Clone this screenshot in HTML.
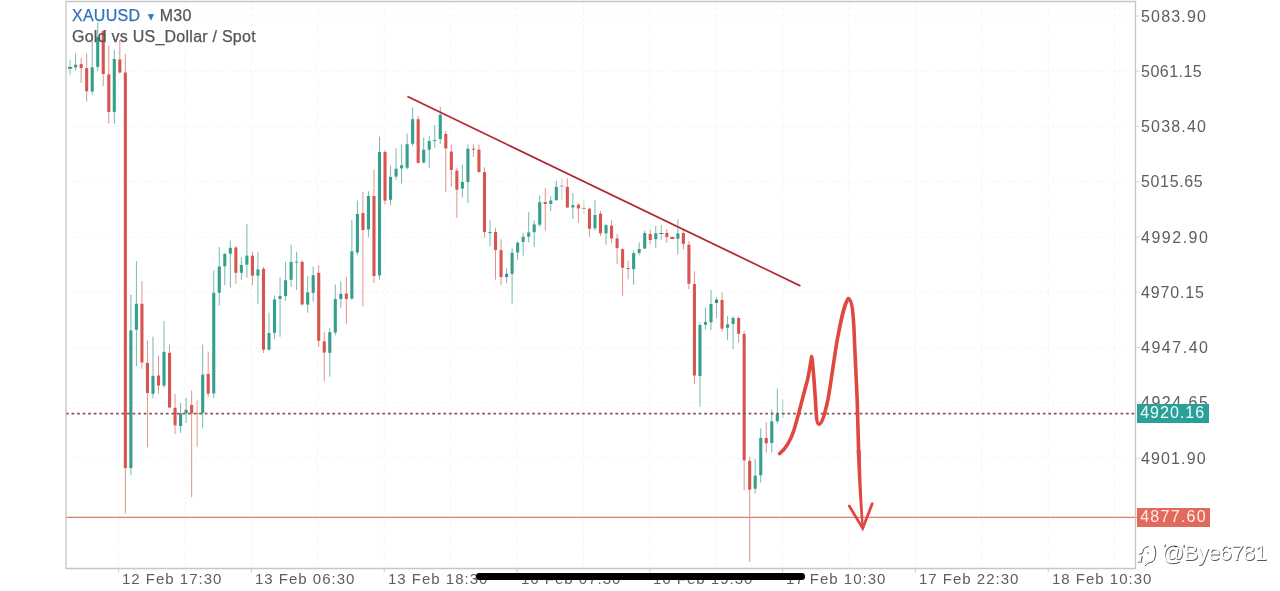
<!DOCTYPE html>
<html><head><meta charset="utf-8"><title>XAUUSD</title>
<style>
html,body{margin:0;padding:0;background:#fff;}
body{width:1280px;height:591px;position:relative;overflow:hidden;font-family:"Liberation Sans",sans-serif;}
svg{position:absolute;left:0;top:0;}
.yl,.xl,.t1,.t2,.tag,.wm{will-change:transform;}
.yl{position:absolute;left:1140.6px;font-size:16px;line-height:18px;height:18px;color:#5d5d62;letter-spacing:1.1px;white-space:nowrap;}
.xl{position:absolute;top:570.3px;font-size:15px;line-height:18px;color:#5d5d62;letter-spacing:1.0px;white-space:nowrap;}
.t1{position:absolute;left:71.5px;top:6.9px;font-size:16px;line-height:18px;color:#2f73b8;white-space:nowrap;letter-spacing:0.25px;-webkit-text-stroke:0.25px #2f73b8;}
.t1 .m{color:#555558;-webkit-text-stroke:0.25px #555558;}
.t2{position:absolute;left:71.5px;top:27.6px;font-size:16px;line-height:18px;color:#555558;white-space:nowrap;letter-spacing:0.25px;-webkit-text-stroke:0.25px #555558;}
.tag{position:absolute;left:1137px;width:71.5px;height:18.6px;line-height:18.8px;font-size:16px;letter-spacing:1.1px;color:#f4fbf9;white-space:nowrap;text-indent:3.2px;background:#2aa198;}
.wm{position:absolute;left:1161.6px;top:540.4px;font-size:22px;line-height:26px;color:#fff;letter-spacing:-0.6px;text-shadow:0.7px 0.7px 0.4px rgba(30,30,30,.75);white-space:nowrap;}
</style></head><body>
<svg width="1280" height="591" viewBox="0 0 1280 591">
<rect x="0" y="0" width="1280" height="591" fill="#fff"/>
<line x1="118.6" y1="2" x2="118.6" y2="568" stroke="#f4f4f7" stroke-width="1" stroke-dasharray="3 2.5"/>
<line x1="185.0" y1="2" x2="185.0" y2="568" stroke="#f4f4f7" stroke-width="1" stroke-dasharray="3 2.5"/>
<line x1="251.4" y1="2" x2="251.4" y2="568" stroke="#f4f4f7" stroke-width="1" stroke-dasharray="3 2.5"/>
<line x1="317.8" y1="2" x2="317.8" y2="568" stroke="#f4f4f7" stroke-width="1" stroke-dasharray="3 2.5"/>
<line x1="384.2" y1="2" x2="384.2" y2="568" stroke="#f4f4f7" stroke-width="1" stroke-dasharray="3 2.5"/>
<line x1="450.6" y1="2" x2="450.6" y2="568" stroke="#f4f4f7" stroke-width="1" stroke-dasharray="3 2.5"/>
<line x1="517.0" y1="2" x2="517.0" y2="568" stroke="#f4f4f7" stroke-width="1" stroke-dasharray="3 2.5"/>
<line x1="583.4" y1="2" x2="583.4" y2="568" stroke="#f4f4f7" stroke-width="1" stroke-dasharray="3 2.5"/>
<line x1="649.8" y1="2" x2="649.8" y2="568" stroke="#f4f4f7" stroke-width="1" stroke-dasharray="3 2.5"/>
<line x1="716.2" y1="2" x2="716.2" y2="568" stroke="#f4f4f7" stroke-width="1" stroke-dasharray="3 2.5"/>
<line x1="782.6" y1="2" x2="782.6" y2="568" stroke="#f4f4f7" stroke-width="1" stroke-dasharray="3 2.5"/>
<line x1="849.0" y1="2" x2="849.0" y2="568" stroke="#f4f4f7" stroke-width="1" stroke-dasharray="3 2.5"/>
<line x1="915.4" y1="2" x2="915.4" y2="568" stroke="#f4f4f7" stroke-width="1" stroke-dasharray="3 2.5"/>
<line x1="981.8" y1="2" x2="981.8" y2="568" stroke="#f4f4f7" stroke-width="1" stroke-dasharray="3 2.5"/>
<line x1="1048.2" y1="2" x2="1048.2" y2="568" stroke="#f4f4f7" stroke-width="1" stroke-dasharray="3 2.5"/>
<line x1="1114.6" y1="2" x2="1114.6" y2="568" stroke="#f4f4f7" stroke-width="1" stroke-dasharray="3 2.5"/>
<line x1="67" y1="16.0" x2="1135" y2="16.0" stroke="#f4f4f7" stroke-width="1" stroke-dasharray="3 2.5"/>
<line x1="67" y1="71.2" x2="1135" y2="71.2" stroke="#f4f4f7" stroke-width="1" stroke-dasharray="3 2.5"/>
<line x1="67" y1="126.5" x2="1135" y2="126.5" stroke="#f4f4f7" stroke-width="1" stroke-dasharray="3 2.5"/>
<line x1="67" y1="181.8" x2="1135" y2="181.8" stroke="#f4f4f7" stroke-width="1" stroke-dasharray="3 2.5"/>
<line x1="67" y1="237.0" x2="1135" y2="237.0" stroke="#f4f4f7" stroke-width="1" stroke-dasharray="3 2.5"/>
<line x1="67" y1="292.2" x2="1135" y2="292.2" stroke="#f4f4f7" stroke-width="1" stroke-dasharray="3 2.5"/>
<line x1="67" y1="347.5" x2="1135" y2="347.5" stroke="#f4f4f7" stroke-width="1" stroke-dasharray="3 2.5"/>
<line x1="67" y1="402.8" x2="1135" y2="402.8" stroke="#f4f4f7" stroke-width="1" stroke-dasharray="3 2.5"/>
<line x1="67" y1="458.0" x2="1135" y2="458.0" stroke="#f4f4f7" stroke-width="1" stroke-dasharray="3 2.5"/>
<line x1="67" y1="513.2" x2="1135" y2="513.2" stroke="#f4f4f7" stroke-width="1" stroke-dasharray="3 2.5"/>
<line x1="70.10" y1="60.3" x2="70.10" y2="75.2" stroke="#8fbab4" stroke-width="1"/>
<rect x="68.00" y="67" width="4.2" height="1.60" fill="#3f7f7c"/>
<line x1="75.62" y1="53.3" x2="75.62" y2="70.5" stroke="#74baae" stroke-width="1"/>
<rect x="74.08" y="64.7" width="3.1" height="2.60" fill="#359f8d"/>
<line x1="81.15" y1="58" x2="81.15" y2="83" stroke="#e0938b" stroke-width="1"/>
<rect x="79.60" y="64.2" width="3.1" height="3.90" fill="#d7554f"/>
<line x1="86.67" y1="53.3" x2="86.67" y2="101.7" stroke="#e0938b" stroke-width="1"/>
<rect x="85.12" y="68.1" width="3.1" height="23.15" fill="#d7554f"/>
<line x1="92.20" y1="41.5" x2="92.20" y2="94.7" stroke="#74baae" stroke-width="1"/>
<rect x="90.65" y="67.3" width="3.1" height="24.30" fill="#359f8d"/>
<line x1="97.72" y1="21.8" x2="97.72" y2="71.25" stroke="#74baae" stroke-width="1"/>
<rect x="96.17" y="37" width="3.1" height="29.90" fill="#359f8d"/>
<line x1="103.25" y1="30" x2="103.25" y2="86" stroke="#e0938b" stroke-width="1"/>
<rect x="101.70" y="31" width="3.1" height="43.00" fill="#d7554f"/>
<line x1="108.78" y1="45.5" x2="108.78" y2="123.6" stroke="#e0938b" stroke-width="1"/>
<rect x="107.23" y="74.4" width="3.1" height="37.50" fill="#d7554f"/>
<line x1="114.30" y1="50.2" x2="114.30" y2="123.6" stroke="#74baae" stroke-width="1"/>
<rect x="112.75" y="59" width="3.1" height="52.90" fill="#359f8d"/>
<line x1="119.82" y1="40" x2="119.82" y2="73.6" stroke="#e0938b" stroke-width="1"/>
<rect x="118.27" y="59.5" width="3.1" height="13.00" fill="#d7554f"/>
<line x1="125.35" y1="54" x2="125.35" y2="513.6" stroke="#e0938b" stroke-width="1"/>
<rect x="123.80" y="72.5" width="3.1" height="395.50" fill="#d7554f"/>
<line x1="130.88" y1="294.7" x2="130.88" y2="475.3" stroke="#74baae" stroke-width="1"/>
<rect x="129.32" y="330.4" width="3.1" height="137.60" fill="#359f8d"/>
<line x1="136.40" y1="261" x2="136.40" y2="366.4" stroke="#74baae" stroke-width="1"/>
<rect x="134.85" y="303.75" width="3.1" height="25.95" fill="#359f8d"/>
<line x1="141.93" y1="281" x2="141.93" y2="368.75" stroke="#e0938b" stroke-width="1"/>
<rect x="140.38" y="303.75" width="3.1" height="58.75" fill="#d7554f"/>
<line x1="147.45" y1="340.6" x2="147.45" y2="447.2" stroke="#e0938b" stroke-width="1"/>
<rect x="145.90" y="363" width="3.1" height="30.00" fill="#d7554f"/>
<line x1="152.97" y1="336.7" x2="152.97" y2="398.4" stroke="#74baae" stroke-width="1"/>
<rect x="151.42" y="375.8" width="3.1" height="17.95" fill="#359f8d"/>
<line x1="158.50" y1="355.5" x2="158.50" y2="393.75" stroke="#e0938b" stroke-width="1"/>
<rect x="156.95" y="375.5" width="3.1" height="10.10" fill="#d7554f"/>
<line x1="164.03" y1="321" x2="164.03" y2="388" stroke="#74baae" stroke-width="1"/>
<rect x="162.47" y="351.9" width="3.1" height="33.70" fill="#359f8d"/>
<line x1="169.55" y1="344.5" x2="169.55" y2="408" stroke="#e0938b" stroke-width="1"/>
<rect x="168.00" y="352.8" width="3.1" height="54.70" fill="#d7554f"/>
<line x1="175.07" y1="393.75" x2="175.07" y2="434" stroke="#e0938b" stroke-width="1"/>
<rect x="173.52" y="407.8" width="3.1" height="17.50" fill="#d7554f"/>
<line x1="180.60" y1="403" x2="180.60" y2="433" stroke="#74baae" stroke-width="1"/>
<rect x="179.05" y="413.3" width="3.1" height="12.70" fill="#359f8d"/>
<line x1="186.12" y1="397.7" x2="186.12" y2="423" stroke="#74baae" stroke-width="1"/>
<rect x="184.57" y="409.8" width="3.1" height="3.50" fill="#359f8d"/>
<line x1="191.65" y1="390.6" x2="191.65" y2="497.2" stroke="#e0938b" stroke-width="1"/>
<rect x="190.10" y="405" width="3.1" height="8.30" fill="#d7554f"/>
<line x1="197.18" y1="400" x2="197.18" y2="447.2" stroke="#e3a188" stroke-width="1"/>
<rect x="195.62" y="413" width="3.1" height="1.00" fill="#d9805e"/>
<line x1="202.70" y1="344.5" x2="202.70" y2="428.4" stroke="#74baae" stroke-width="1"/>
<rect x="201.15" y="374.7" width="3.1" height="38.30" fill="#359f8d"/>
<line x1="208.22" y1="351.6" x2="208.22" y2="396.9" stroke="#e0938b" stroke-width="1"/>
<rect x="206.67" y="373.9" width="3.1" height="19.85" fill="#d7554f"/>
<line x1="213.75" y1="270.5" x2="213.75" y2="398.4" stroke="#74baae" stroke-width="1"/>
<rect x="212.20" y="292.8" width="3.1" height="100.60" fill="#359f8d"/>
<line x1="219.28" y1="247" x2="219.28" y2="305.6" stroke="#74baae" stroke-width="1"/>
<rect x="217.72" y="266.6" width="3.1" height="26.10" fill="#359f8d"/>
<line x1="224.80" y1="253.5" x2="224.80" y2="285.3" stroke="#74baae" stroke-width="1"/>
<rect x="223.25" y="253.75" width="3.1" height="12.50" fill="#359f8d"/>
<line x1="230.33" y1="240.5" x2="230.33" y2="287.7" stroke="#74baae" stroke-width="1"/>
<rect x="228.78" y="247.8" width="3.1" height="5.95" fill="#359f8d"/>
<line x1="235.85" y1="246" x2="235.85" y2="283.75" stroke="#e0938b" stroke-width="1"/>
<rect x="234.30" y="247.5" width="3.1" height="25.30" fill="#d7554f"/>
<line x1="241.38" y1="257.2" x2="241.38" y2="279.8" stroke="#74baae" stroke-width="1"/>
<rect x="239.82" y="265" width="3.1" height="7.80" fill="#359f8d"/>
<line x1="246.90" y1="224" x2="246.90" y2="277.5" stroke="#74baae" stroke-width="1"/>
<rect x="245.35" y="255.6" width="3.1" height="9.10" fill="#359f8d"/>
<line x1="252.43" y1="251.7" x2="252.43" y2="285.3" stroke="#e0938b" stroke-width="1"/>
<rect x="250.88" y="255.6" width="3.1" height="20.00" fill="#d7554f"/>
<line x1="257.95" y1="251.7" x2="257.95" y2="304" stroke="#74baae" stroke-width="1"/>
<rect x="256.40" y="269.4" width="3.1" height="6.20" fill="#359f8d"/>
<line x1="263.48" y1="267" x2="263.48" y2="353" stroke="#e0938b" stroke-width="1"/>
<rect x="261.93" y="268.9" width="3.1" height="80.80" fill="#d7554f"/>
<line x1="269.00" y1="312.7" x2="269.00" y2="350.5" stroke="#74baae" stroke-width="1"/>
<rect x="267.45" y="333" width="3.1" height="16.70" fill="#359f8d"/>
<line x1="274.52" y1="295.5" x2="274.52" y2="339" stroke="#74baae" stroke-width="1"/>
<rect x="272.97" y="299.4" width="3.1" height="33.40" fill="#359f8d"/>
<line x1="280.05" y1="277.5" x2="280.05" y2="336.7" stroke="#74baae" stroke-width="1"/>
<rect x="278.50" y="296" width="3.1" height="3.00" fill="#359f8d"/>
<line x1="285.58" y1="261.9" x2="285.58" y2="301" stroke="#74baae" stroke-width="1"/>
<rect x="284.03" y="280.3" width="3.1" height="15.70" fill="#359f8d"/>
<line x1="291.10" y1="244.7" x2="291.10" y2="286.9" stroke="#74baae" stroke-width="1"/>
<rect x="289.55" y="261.9" width="3.1" height="17.90" fill="#359f8d"/>
<line x1="296.62" y1="251.7" x2="296.62" y2="290" stroke="#74baae" stroke-width="1"/>
<rect x="295.07" y="261.7" width="3.1" height="1.00" fill="#359f8d"/>
<line x1="302.15" y1="260" x2="302.15" y2="305.6" stroke="#e0938b" stroke-width="1"/>
<rect x="300.60" y="261.9" width="3.1" height="42.50" fill="#d7554f"/>
<line x1="307.68" y1="276" x2="307.68" y2="312.7" stroke="#74baae" stroke-width="1"/>
<rect x="306.12" y="292.3" width="3.1" height="12.30" fill="#359f8d"/>
<line x1="313.20" y1="266.4" x2="313.20" y2="301.7" stroke="#74baae" stroke-width="1"/>
<rect x="311.65" y="275.2" width="3.1" height="17.60" fill="#359f8d"/>
<line x1="318.73" y1="265" x2="318.73" y2="347" stroke="#e0938b" stroke-width="1"/>
<rect x="317.18" y="272.8" width="3.1" height="68.00" fill="#d7554f"/>
<line x1="324.25" y1="332.2" x2="324.25" y2="381.4" stroke="#e0938b" stroke-width="1"/>
<rect x="322.70" y="341.25" width="3.1" height="11.35" fill="#d7554f"/>
<line x1="329.77" y1="328.3" x2="329.77" y2="376.7" stroke="#74baae" stroke-width="1"/>
<rect x="328.22" y="332.2" width="3.1" height="20.60" fill="#359f8d"/>
<line x1="335.30" y1="284.5" x2="335.30" y2="335.3" stroke="#74baae" stroke-width="1"/>
<rect x="333.75" y="299" width="3.1" height="33.50" fill="#359f8d"/>
<line x1="340.83" y1="281.4" x2="340.83" y2="308" stroke="#74baae" stroke-width="1"/>
<rect x="339.28" y="293.9" width="3.1" height="5.00" fill="#3f8aa0"/>
<line x1="346.35" y1="276.7" x2="346.35" y2="323.6" stroke="#e0938b" stroke-width="1"/>
<rect x="344.80" y="293.6" width="3.1" height="5.30" fill="#d7554f"/>
<line x1="351.88" y1="220" x2="351.88" y2="300" stroke="#74baae" stroke-width="1"/>
<rect x="350.32" y="251.4" width="3.1" height="47.20" fill="#359f8d"/>
<line x1="357.40" y1="200.6" x2="357.40" y2="255.3" stroke="#74baae" stroke-width="1"/>
<rect x="355.85" y="213.9" width="3.1" height="38.60" fill="#359f8d"/>
<line x1="362.93" y1="192" x2="362.93" y2="306.4" stroke="#e0938b" stroke-width="1"/>
<rect x="361.38" y="213" width="3.1" height="17.00" fill="#d7554f"/>
<line x1="368.45" y1="191.25" x2="368.45" y2="237.3" stroke="#74baae" stroke-width="1"/>
<rect x="366.90" y="196" width="3.1" height="33.50" fill="#359f8d"/>
<line x1="373.98" y1="169.5" x2="373.98" y2="283" stroke="#e0938b" stroke-width="1"/>
<rect x="372.43" y="196" width="3.1" height="80.00" fill="#d7554f"/>
<line x1="379.50" y1="136.7" x2="379.50" y2="279.8" stroke="#74baae" stroke-width="1"/>
<rect x="377.95" y="152" width="3.1" height="123.40" fill="#359f8d"/>
<line x1="385.02" y1="150" x2="385.02" y2="204.5" stroke="#e0938b" stroke-width="1"/>
<rect x="383.47" y="152" width="3.1" height="48.60" fill="#d7554f"/>
<line x1="390.55" y1="165.6" x2="390.55" y2="205.3" stroke="#74baae" stroke-width="1"/>
<rect x="389.00" y="176.9" width="3.1" height="22.90" fill="#359f8d"/>
<line x1="396.08" y1="148.4" x2="396.08" y2="179.7" stroke="#74baae" stroke-width="1"/>
<rect x="394.53" y="168.75" width="3.1" height="7.85" fill="#359f8d"/>
<line x1="401.60" y1="144.5" x2="401.60" y2="183.6" stroke="#74baae" stroke-width="1"/>
<rect x="400.05" y="165.3" width="3.1" height="3.10" fill="#359f8d"/>
<line x1="407.12" y1="133.6" x2="407.12" y2="169.5" stroke="#74baae" stroke-width="1"/>
<rect x="405.57" y="144.2" width="3.1" height="23.50" fill="#359f8d"/>
<line x1="412.65" y1="107.5" x2="412.65" y2="146" stroke="#74baae" stroke-width="1"/>
<rect x="411.10" y="119.2" width="3.1" height="24.55" fill="#359f8d"/>
<line x1="418.18" y1="115.6" x2="418.18" y2="163.5" stroke="#e0938b" stroke-width="1"/>
<rect x="416.63" y="119.2" width="3.1" height="43.60" fill="#d7554f"/>
<line x1="423.70" y1="137.5" x2="423.70" y2="163.5" stroke="#74baae" stroke-width="1"/>
<rect x="422.15" y="149.7" width="3.1" height="12.80" fill="#359f8d"/>
<line x1="429.23" y1="136" x2="429.23" y2="168" stroke="#74baae" stroke-width="1"/>
<rect x="427.68" y="141" width="3.1" height="8.70" fill="#359f8d"/>
<line x1="434.75" y1="125" x2="434.75" y2="147.7" stroke="#74baae" stroke-width="1"/>
<rect x="433.20" y="140" width="3.1" height="1.00" fill="#359f8d"/>
<line x1="440.27" y1="107" x2="440.27" y2="143.75" stroke="#74baae" stroke-width="1"/>
<rect x="438.72" y="114.8" width="3.1" height="24.20" fill="#359f8d"/>
<line x1="445.80" y1="131" x2="445.80" y2="192" stroke="#e0938b" stroke-width="1"/>
<rect x="444.25" y="134" width="3.1" height="14.40" fill="#d7554f"/>
<line x1="451.33" y1="144.5" x2="451.33" y2="186.7" stroke="#e0938b" stroke-width="1"/>
<rect x="449.78" y="151.6" width="3.1" height="18.40" fill="#d7554f"/>
<line x1="456.85" y1="168" x2="456.85" y2="217.8" stroke="#e0938b" stroke-width="1"/>
<rect x="455.30" y="170.6" width="3.1" height="19.00" fill="#d7554f"/>
<line x1="462.38" y1="164.8" x2="462.38" y2="197.5" stroke="#74baae" stroke-width="1"/>
<rect x="460.82" y="182" width="3.1" height="6.60" fill="#359f8d"/>
<line x1="467.90" y1="144.5" x2="467.90" y2="203" stroke="#74baae" stroke-width="1"/>
<rect x="466.35" y="148.75" width="3.1" height="33.25" fill="#359f8d"/>
<line x1="473.43" y1="144.2" x2="473.43" y2="157" stroke="#e0938b" stroke-width="1"/>
<rect x="471.88" y="148.8" width="3.1" height="1.00" fill="#d7554f"/>
<line x1="478.95" y1="144.5" x2="478.95" y2="173" stroke="#e0938b" stroke-width="1"/>
<rect x="477.40" y="149.7" width="3.1" height="22.20" fill="#d7554f"/>
<line x1="484.48" y1="167.2" x2="484.48" y2="237.5" stroke="#e0938b" stroke-width="1"/>
<rect x="482.93" y="172.2" width="3.1" height="59.80" fill="#d7554f"/>
<line x1="490.00" y1="220" x2="490.00" y2="246.5" stroke="#74baae" stroke-width="1"/>
<rect x="488.45" y="232" width="3.1" height="1.20" fill="#359f8d"/>
<line x1="495.52" y1="227.7" x2="495.52" y2="279.6" stroke="#e0938b" stroke-width="1"/>
<rect x="493.97" y="232" width="3.1" height="18.00" fill="#d7554f"/>
<line x1="501.05" y1="239.2" x2="501.05" y2="284.8" stroke="#e0938b" stroke-width="1"/>
<rect x="499.50" y="250.2" width="3.1" height="26.80" fill="#d7554f"/>
<line x1="506.58" y1="268.4" x2="506.58" y2="283.3" stroke="#74baae" stroke-width="1"/>
<rect x="505.03" y="273.9" width="3.1" height="3.10" fill="#3f8aa0"/>
<line x1="512.10" y1="248.3" x2="512.10" y2="303.6" stroke="#74baae" stroke-width="1"/>
<rect x="510.55" y="252.8" width="3.1" height="21.10" fill="#359f8d"/>
<line x1="517.62" y1="241.5" x2="517.62" y2="259.8" stroke="#74baae" stroke-width="1"/>
<rect x="516.08" y="242.7" width="3.1" height="9.80" fill="#359f8d"/>
<line x1="523.15" y1="233" x2="523.15" y2="255.6" stroke="#74baae" stroke-width="1"/>
<rect x="521.60" y="236.9" width="3.1" height="5.10" fill="#359f8d"/>
<line x1="528.68" y1="211.9" x2="528.68" y2="242.3" stroke="#74baae" stroke-width="1"/>
<rect x="527.13" y="232.5" width="3.1" height="4.10" fill="#359f8d"/>
<line x1="534.20" y1="220.5" x2="534.20" y2="247" stroke="#74baae" stroke-width="1"/>
<rect x="532.65" y="224.4" width="3.1" height="7.80" fill="#359f8d"/>
<line x1="539.73" y1="195.5" x2="539.73" y2="226.7" stroke="#74baae" stroke-width="1"/>
<rect x="538.18" y="202.2" width="3.1" height="22.50" fill="#359f8d"/>
<line x1="545.25" y1="187.7" x2="545.25" y2="230.6" stroke="#e0938b" stroke-width="1"/>
<rect x="543.70" y="202" width="3.1" height="2.00" fill="#d7554f"/>
<line x1="550.77" y1="196.25" x2="550.77" y2="211" stroke="#74baae" stroke-width="1"/>
<rect x="549.23" y="200.5" width="3.1" height="3.50" fill="#359f8d"/>
<line x1="556.30" y1="180.6" x2="556.30" y2="200.5" stroke="#74baae" stroke-width="1"/>
<rect x="554.75" y="186.9" width="3.1" height="13.30" fill="#359f8d"/>
<line x1="561.83" y1="178.3" x2="561.83" y2="199.4" stroke="#d2ccc8" stroke-width="1"/>
<rect x="559.73" y="185.6" width="4.2" height="1.00" fill="#b5aaa2"/>
<line x1="567.35" y1="178.3" x2="567.35" y2="208" stroke="#e0938b" stroke-width="1"/>
<rect x="565.80" y="186.9" width="3.1" height="20.60" fill="#d7554f"/>
<line x1="572.88" y1="193" x2="572.88" y2="219" stroke="#74baae" stroke-width="1"/>
<rect x="571.33" y="205.2" width="3.1" height="2.30" fill="#359f8d"/>
<line x1="578.40" y1="203" x2="578.40" y2="222.8" stroke="#e0938b" stroke-width="1"/>
<rect x="576.85" y="204.8" width="3.1" height="3.60" fill="#d7554f"/>
<line x1="583.93" y1="200" x2="583.93" y2="214" stroke="#d2ccc8" stroke-width="1"/>
<rect x="581.83" y="208" width="4.2" height="1.00" fill="#b5aaa2"/>
<line x1="589.45" y1="207.5" x2="589.45" y2="236.9" stroke="#e0938b" stroke-width="1"/>
<rect x="587.90" y="208.75" width="3.1" height="20.00" fill="#d7554f"/>
<line x1="594.98" y1="200" x2="594.98" y2="230.6" stroke="#74baae" stroke-width="1"/>
<rect x="593.43" y="215" width="3.1" height="13.30" fill="#359f8d"/>
<line x1="600.50" y1="211" x2="600.50" y2="236" stroke="#e0938b" stroke-width="1"/>
<rect x="598.95" y="213.75" width="3.1" height="19.55" fill="#d7554f"/>
<line x1="606.03" y1="224" x2="606.03" y2="244.7" stroke="#74baae" stroke-width="1"/>
<rect x="604.48" y="225.2" width="3.1" height="8.10" fill="#359f8d"/>
<line x1="611.55" y1="219.7" x2="611.55" y2="243" stroke="#e0938b" stroke-width="1"/>
<rect x="610.00" y="225.6" width="3.1" height="12.80" fill="#d7554f"/>
<line x1="617.08" y1="233.75" x2="617.08" y2="263.75" stroke="#e0938b" stroke-width="1"/>
<rect x="615.53" y="238.4" width="3.1" height="9.50" fill="#d7554f"/>
<line x1="622.60" y1="248" x2="622.60" y2="295.8" stroke="#e0938b" stroke-width="1"/>
<rect x="621.05" y="249.2" width="3.1" height="18.50" fill="#d7554f"/>
<line x1="628.13" y1="260.6" x2="628.13" y2="279.4" stroke="#e0938b" stroke-width="1"/>
<rect x="626.58" y="268" width="3.1" height="1.00" fill="#d7554f"/>
<line x1="633.65" y1="250.5" x2="633.65" y2="284.8" stroke="#74baae" stroke-width="1"/>
<rect x="632.10" y="253.1" width="3.1" height="16.10" fill="#359f8d"/>
<line x1="639.18" y1="242.3" x2="639.18" y2="255.3" stroke="#74baae" stroke-width="1"/>
<rect x="637.63" y="249" width="3.1" height="3.90" fill="#359f8d"/>
<line x1="644.70" y1="230.6" x2="644.70" y2="249" stroke="#74baae" stroke-width="1"/>
<rect x="643.15" y="233" width="3.1" height="15.50" fill="#359f8d"/>
<line x1="650.23" y1="229.8" x2="650.23" y2="244" stroke="#e0938b" stroke-width="1"/>
<rect x="648.68" y="234" width="3.1" height="6.00" fill="#d7554f"/>
<line x1="655.75" y1="226" x2="655.75" y2="247.8" stroke="#74baae" stroke-width="1"/>
<rect x="654.20" y="233.3" width="3.1" height="5.90" fill="#359f8d"/>
<line x1="661.28" y1="225" x2="661.28" y2="240" stroke="#8fbab4" stroke-width="1"/>
<rect x="659.18" y="233" width="4.2" height="1.00" fill="#3f7f7c"/>
<line x1="666.80" y1="229" x2="666.80" y2="243" stroke="#e0938b" stroke-width="1"/>
<rect x="665.25" y="233" width="3.1" height="3.90" fill="#d7554f"/>
<line x1="672.33" y1="236.9" x2="672.33" y2="238.9" stroke="#e0938b" stroke-width="1"/>
<rect x="670.23" y="236.9" width="4.2" height="2.00" fill="#d7554f"/>
<line x1="677.85" y1="219.4" x2="677.85" y2="254.5" stroke="#74baae" stroke-width="1"/>
<rect x="676.30" y="233.4" width="3.1" height="5.35" fill="#359f8d"/>
<line x1="683.38" y1="229" x2="683.38" y2="249.4" stroke="#e0938b" stroke-width="1"/>
<rect x="681.83" y="233" width="3.1" height="10.90" fill="#d7554f"/>
<line x1="688.90" y1="240.8" x2="688.90" y2="289.2" stroke="#e0938b" stroke-width="1"/>
<rect x="687.35" y="244.7" width="3.1" height="39.05" fill="#d7554f"/>
<line x1="694.43" y1="271.25" x2="694.43" y2="384" stroke="#e0938b" stroke-width="1"/>
<rect x="692.88" y="284" width="3.1" height="91.50" fill="#d7554f"/>
<line x1="699.95" y1="322.3" x2="699.95" y2="406.6" stroke="#74baae" stroke-width="1"/>
<rect x="698.40" y="325" width="3.1" height="51.00" fill="#359f8d"/>
<line x1="705.48" y1="307.5" x2="705.48" y2="329.4" stroke="#74baae" stroke-width="1"/>
<rect x="703.93" y="322" width="3.1" height="2.70" fill="#359f8d"/>
<line x1="711.00" y1="290" x2="711.00" y2="330" stroke="#74baae" stroke-width="1"/>
<rect x="709.45" y="304" width="3.1" height="18.30" fill="#359f8d"/>
<line x1="716.53" y1="297" x2="716.53" y2="318.4" stroke="#8fbab4" stroke-width="1"/>
<rect x="714.98" y="299.6" width="3.1" height="3.30" fill="#3f7f7c"/>
<line x1="722.05" y1="292.3" x2="722.05" y2="331.7" stroke="#e0938b" stroke-width="1"/>
<rect x="720.50" y="300" width="3.1" height="28.60" fill="#d7554f"/>
<line x1="727.58" y1="316" x2="727.58" y2="340.3" stroke="#74baae" stroke-width="1"/>
<rect x="726.03" y="324.4" width="3.1" height="3.40" fill="#359f8d"/>
<line x1="733.10" y1="316" x2="733.10" y2="349" stroke="#74baae" stroke-width="1"/>
<rect x="731.55" y="318" width="3.1" height="6.00" fill="#359f8d"/>
<line x1="738.63" y1="316.5" x2="738.63" y2="342.7" stroke="#e0938b" stroke-width="1"/>
<rect x="737.08" y="318" width="3.1" height="15.75" fill="#d7554f"/>
<line x1="744.15" y1="331" x2="744.15" y2="490.3" stroke="#e0938b" stroke-width="1"/>
<rect x="742.60" y="334" width="3.1" height="126.30" fill="#d7554f"/>
<line x1="749.68" y1="456.6" x2="749.68" y2="561.8" stroke="#e0938b" stroke-width="1"/>
<rect x="748.13" y="460.8" width="3.1" height="28.80" fill="#d7554f"/>
<line x1="755.20" y1="459" x2="755.20" y2="493.6" stroke="#74baae" stroke-width="1"/>
<rect x="753.65" y="475.75" width="3.1" height="12.95" fill="#359f8d"/>
<line x1="760.73" y1="428.4" x2="760.73" y2="482.5" stroke="#74baae" stroke-width="1"/>
<rect x="759.18" y="437.8" width="3.1" height="37.50" fill="#359f8d"/>
<line x1="766.25" y1="422.2" x2="766.25" y2="452.7" stroke="#e0938b" stroke-width="1"/>
<rect x="764.70" y="438" width="3.1" height="5.30" fill="#d7554f"/>
<line x1="771.78" y1="409.7" x2="771.78" y2="452.7" stroke="#74baae" stroke-width="1"/>
<rect x="770.23" y="421.4" width="3.1" height="21.60" fill="#359f8d"/>
<line x1="777.30" y1="388.6" x2="777.30" y2="423.75" stroke="#74baae" stroke-width="1"/>
<rect x="775.75" y="414" width="3.1" height="7.20" fill="#359f8d"/>
<line x1="782.83" y1="399.5" x2="782.83" y2="418" stroke="#9ad3c9" stroke-width="1"/>
<rect x="781.28" y="413" width="3.1" height="1.00" fill="#8fcfc4"/>
<!-- dotted current price line -->
<line x1="66" y1="413.6" x2="1137" y2="413.6" stroke="#8a5355" stroke-width="1.8" stroke-dasharray="2.7 2.85"/>
<!-- support line -->
<line x1="66" y1="517.4" x2="1137" y2="517.4" stroke="#dd8068" stroke-width="1.2"/>
<!-- trend line -->
<line x1="408.1" y1="96.8" x2="799.8" y2="285.6" stroke="#ea6a72" stroke-width="2.1" stroke-linecap="round" opacity=".75"/>
<line x1="408.1" y1="96.8" x2="799.8" y2="285.6" stroke="#a01f2a" stroke-width="1.25" stroke-linecap="round"/>
<!-- frame -->
<path d="M66 569 V1.5 H1135.5 V568.5 H66" fill="none" stroke="#c6c6c9" stroke-width="1.3"/>
<line x1="1135.5" y1="16.0" x2="1139.5" y2="16.0" stroke="#dadadd" stroke-width="1"/><line x1="1135.5" y1="71.2" x2="1139.5" y2="71.2" stroke="#dadadd" stroke-width="1"/><line x1="1135.5" y1="126.5" x2="1139.5" y2="126.5" stroke="#dadadd" stroke-width="1"/><line x1="1135.5" y1="181.8" x2="1139.5" y2="181.8" stroke="#dadadd" stroke-width="1"/><line x1="1135.5" y1="237.0" x2="1139.5" y2="237.0" stroke="#dadadd" stroke-width="1"/><line x1="1135.5" y1="292.2" x2="1139.5" y2="292.2" stroke="#dadadd" stroke-width="1"/><line x1="1135.5" y1="347.5" x2="1139.5" y2="347.5" stroke="#dadadd" stroke-width="1"/><line x1="1135.5" y1="402.8" x2="1139.5" y2="402.8" stroke="#dadadd" stroke-width="1"/><line x1="1135.5" y1="458.0" x2="1139.5" y2="458.0" stroke="#dadadd" stroke-width="1"/><line x1="118.6" y1="568.5" x2="118.6" y2="572.5" stroke="#c9c9cc" stroke-width="1"/><line x1="251.4" y1="568.5" x2="251.4" y2="572.5" stroke="#c9c9cc" stroke-width="1"/><line x1="384.2" y1="568.5" x2="384.2" y2="572.5" stroke="#c9c9cc" stroke-width="1"/><line x1="517.0" y1="568.5" x2="517.0" y2="572.5" stroke="#c9c9cc" stroke-width="1"/><line x1="649.8" y1="568.5" x2="649.8" y2="572.5" stroke="#c9c9cc" stroke-width="1"/><line x1="782.6" y1="568.5" x2="782.6" y2="572.5" stroke="#c9c9cc" stroke-width="1"/><line x1="915.4" y1="568.5" x2="915.4" y2="572.5" stroke="#c9c9cc" stroke-width="1"/><line x1="1048.2" y1="568.5" x2="1048.2" y2="572.5" stroke="#c9c9cc" stroke-width="1"/>
<!-- hand drawn -->
<path d="M779.6 453.6 C786 448.5 790.5 441 794 430 C798 417 802.5 398 807.2 381 C809 373.5 810.6 363 811.6 356.6 C813 362 814 380 815.3 398 C816.2 412 816.4 424.2 818.9 424.2 C822 424.2 825 413 827.9 399.9 C830 389 832.5 370 836.5 344 C840 325 843.5 305 848.2 298.6 C852.5 298.5 853.8 320 854.6 344 C855.6 365 856.6 385 857.2 400 C858 425 858.4 445 858.8 458" fill="none" stroke="#e0473f" stroke-width="3.6" stroke-linecap="round" stroke-linejoin="round"/>
<polygon points="856.70,450.00 856.93,455.93 857.17,461.74 857.43,467.42 857.71,472.99 858.00,478.44 858.30,483.79 858.62,489.04 858.95,494.19 859.30,499.25 859.65,504.22 860.02,509.12 860.39,513.94 860.77,518.69 861.16,523.37 861.55,528.00 863.85,528.00 863.57,523.37 863.30,518.69 863.03,513.94 862.77,509.12 862.52,504.22 862.28,499.25 862.05,494.19 861.83,489.04 861.62,483.79 861.43,478.44 861.25,472.99 861.09,467.42 860.94,461.74 860.81,455.93 860.70,450.00" fill="#e0473f"/>
<path d="M849.3 506 L862.7 528.4 L872.2 503.8" fill="none" stroke="#e0473f" stroke-width="2.8" stroke-linecap="round" stroke-linejoin="miter"/>
<!-- home indicator -->
<!-- price tags -->
<!-- weibo logo -->
<g fill="none" stroke="#2a2a2a" stroke-width="1" stroke-linecap="round" opacity=".85">
<path d="M1148.3 546.7 C1145.5 547 1144.2 548 1143.7 549.3 C1143.2 550.6 1143 552 1142.4 553.2 L1139.6 554.3"/>
<path d="M1142.2 556.3 L1141 562.6"/>
<path d="M1138.3 562.2 L1139.3 562.2"/>
<path d="M1154.3 546.2 C1155.6 549 1156 552 1155.6 554.5 C1155.2 557 1155 558.6 1154.2 560 C1153 562 1151 562.4 1149.8 562.7 C1148 563.2 1147 564 1146.3 564.6 L1145.2 565.9"/>
<path d="M1147.6 553 L1148.5 553"/>
</g>
<g fill="#333" opacity=".8"><ellipse cx="1165.2" cy="546" rx=".7" ry="1.6" transform="rotate(25 1165.2 546)"/><ellipse cx="1175.7" cy="546.3" rx="1.7" ry="1.1"/><ellipse cx="1184.2" cy="546.4" rx=".75" ry="1.6"/></g>
</svg>
<div class="t1">XAUUSD <span style="font-size:10px;position:relative;top:-1.5px;left:1px;color:#2b78d0">&#9660;</span> <span class="m">M30</span></div>
<div class="t2">Gold vs US_Dollar / Spot</div>
<div class="yl" style="top:7.60px;letter-spacing:1.18px">5083.90</div><div class="yl" style="top:62.85px;letter-spacing:0.48px">5061.15</div><div class="yl" style="top:118.10px;letter-spacing:1.18px">5038.40</div><div class="yl" style="top:173.35px;letter-spacing:0.65px">5015.65</div><div class="yl" style="top:228.60px;letter-spacing:1.51px">4992.90</div><div class="yl" style="top:283.85px;letter-spacing:0.85px">4970.15</div><div class="yl" style="top:339.10px;letter-spacing:1.53px">4947.40</div><div class="yl" style="top:394.35px;letter-spacing:1.51px">4924.65</div><div class="yl" style="top:449.60px;letter-spacing:1.13px">4901.90</div>
<div class="xl" style="left:122.2px">12 Feb 17:30</div><div class="xl" style="left:255.0px">13 Feb 06:30</div><div class="xl" style="left:387.8px">13 Feb 18:30</div><div class="xl" style="left:520.6px">16 Feb 07:30</div><div class="xl" style="left:653.4px">16 Feb 19:30</div><div class="xl" style="left:786.2px">17 Feb 10:30</div><div class="xl" style="left:919.0px">17 Feb 22:30</div><div class="xl" style="left:1051.8px">18 Feb 10:30</div>
<div class="tag" style="top:404.3px;letter-spacing:1.0px">4920.16</div>
<div class="tag" style="top:507.9px;color:#fdeee9;background:#e26a5c;width:72.5px;letter-spacing:1.27px">4877.60</div>
<div class="wm">@Bye6781</div>
<div style="position:absolute;left:476px;top:573.1px;width:328.5px;height:6.6px;border-radius:3.3px;background:#000"></div>
</body></html>
